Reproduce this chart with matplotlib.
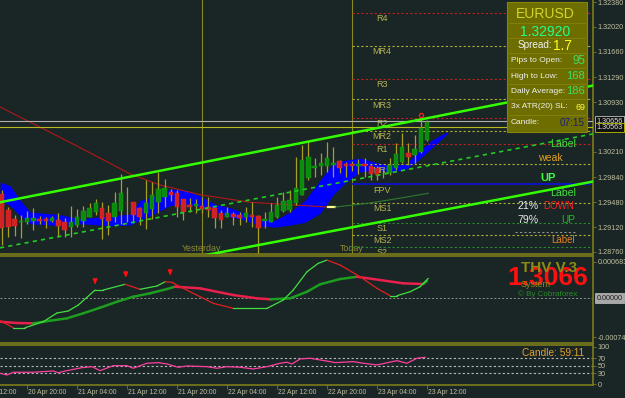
import matplotlib
matplotlib.use('Agg')
import matplotlib.pyplot as plt
from matplotlib.patches import Rectangle
from matplotlib.lines import Line2D
from matplotlib.collections import LineCollection
import matplotlib.transforms as mtransforms
import numpy as np

plt.rcParams['font.family'] = ['Liberation Sans', 'DejaVu Sans']

# ---------------- data ----------------
# hourly candles, index = hours since 20 Apr 16:00
opens = [1.2960,1.2937,1.2924,1.2919,1.2919,1.2921,1.2924,1.2924,1.2921,1.2922,
         1.2919,1.2912,1.2915,1.2921,1.2927,1.2934,1.2940,1.2932,1.2927,1.2935,
         1.2948,1.2948,1.2940,1.2932,1.2938,1.2948,1.2956,1.2963,1.2961,1.2953,
         1.2944,1.2943,1.2943,1.2941,1.2940,1.2932,1.2927,1.2931,1.2930,1.2927,
         1.2930,1.2928,1.2921,1.2919,1.2927,1.2935,1.2937,1.2947,1.2959,1.2983,
         1.2998,1.3001,1.3001,1.3002,1.3008,1.3003,1.3003,1.3001,1.3003,1.3001,
         1.2998,1.2989,1.2990,1.2998,1.3006,1.3019,1.3017,1.3021,1.3038]
highs = [1.2966,1.2941,1.2930,1.2930,1.2935,1.2940,1.2928,1.2927,1.2928,1.2932,
         1.2925,1.2943,1.2938,1.2943,1.2947,1.2953,1.2948,1.2944,1.2963,1.2989,
         1.2970,1.2948,1.2941,1.2980,1.2977,1.2992,1.2982,1.2967,1.2966,1.2953,
         1.2954,1.2953,1.2956,1.2956,1.2941,1.2937,1.2941,1.2934,1.2934,1.2941,
         1.2948,1.2930,1.2934,1.2947,1.2956,1.2963,1.2966,1.3014,1.3031,1.3035,
         1.3012,1.3019,1.3035,1.3028,1.3009,1.3006,1.3008,1.3011,1.3012,1.3002,
         1.3001,1.2998,1.3012,1.3034,1.3048,1.3034,1.3045,1.3072,1.3067]
lows = [1.2886,1.2898,1.2899,1.2896,1.2917,1.2908,1.2917,1.2911,1.2919,1.2898,
        1.2898,1.2898,1.2912,1.2912,1.2927,1.2930,1.2895,1.2901,1.2919,1.2917,
        1.2919,1.2918,1.2915,1.2909,1.2924,1.2932,1.2941,1.2950,1.2927,1.2922,
        1.2934,1.2932,1.2932,1.2927,1.2911,1.2911,1.2927,1.2915,1.2915,1.2919,
        1.2912,1.2875,1.2911,1.2919,1.2925,1.2934,1.2934,1.2944,1.2959,1.2980,
        1.2985,1.2988,1.2992,1.2985,1.2990,1.2985,1.2993,1.2989,1.2985,1.2980,
        1.2980,1.2983,1.2988,1.2995,1.3005,1.3002,1.3005,1.3019,1.3037]
closes = [1.2911,1.2912,1.2914,1.2921,1.2925,1.2925,1.2921,1.2921,1.2925,1.2914,
          1.2908,1.2919,1.2927,1.2935,1.2940,1.2947,1.2924,1.2921,1.2947,1.2961,
          1.2947,1.2930,1.2927,1.2947,1.2958,1.2967,1.2969,1.2958,1.2941,1.2934,
          1.2941,1.2946,1.2938,1.2937,1.2925,1.2922,1.2932,1.2927,1.2925,1.2932,
          1.2927,1.2911,1.2924,1.2934,1.2944,1.2950,1.2951,1.2969,1.3009,1.3014,
          1.3001,1.3005,1.3012,1.3005,1.2998,1.3001,1.3001,1.3003,1.3001,1.2989,
          1.2988,1.2990,1.3002,1.3018,1.3028,1.3014,1.3025,1.3056,1.3064]

time_ticks = [-4, 4, 12, 20, 28, 36, 44, 52, 60, 68]
time_labels = ['20 Apr 12:00', '20 Apr 20:00', '21 Apr 04:00', '21 Apr 12:00',
               '21 Apr 20:00', '22 Apr 04:00', '22 Apr 12:00', '22 Apr 20:00',
               '23 Apr 04:00', '23 Apr 12:00']

price_ticks = [1.3238, 1.3202, 1.3166, 1.3129, 1.3093, 1.3021, 1.2984, 1.2948, 1.2912, 1.2876]
bid_price = 1.30563
ask_price = 1.30656

# blue cloud band
cloud_idx = [-0.3, 1.3, 2.9, 4.5, 9.3, 12.5, 17.3, 20.5, 22.1, 24.5, 26.9, 29.3, 31.7, 34.1, 36.5,
             38.9, 41.3, 43.7, 46.1, 48.5, 50.9, 53.0, 54.9, 57.3, 59.7, 62.1, 64.5, 66.6, 68.8, 71.2]
cloud_top = [1.2977, 1.2972, 1.2951, 1.2934, 1.2930, 1.2924, 1.2928, 1.2931, 1.2951, 1.2957, 1.2967,
             1.2966, 1.2957, 1.2945, 1.2940, 1.2932, 1.2925, 1.2922, 1.2934, 1.2951, 1.2980, 1.3005,
             1.3009, 1.3012, 1.3006, 1.3001, 1.3003, 1.3021, 1.3038, 1.3050]
cloud_bot = [1.2951, 1.2943, 1.2928, 1.2917, 1.2914, 1.2917, 1.2914, 1.2915, 1.2922, 1.2932, 1.2943,
             1.2946, 1.2941, 1.2934, 1.2927, 1.2922, 1.2914, 1.2912, 1.2915, 1.2919, 1.2932, 1.2959,
             1.2976, 1.2992, 1.2995, 1.2992, 1.2995, 1.3009, 1.3027, 1.3047]

# moving average lines
ma_idx = [-0.3, 4.5, 9.3, 15.7, 20.5, 25.3, 31.7, 39.7, 46.9, 52.2]
ma_val = [1.3086, 1.3064, 1.3042, 1.3012, 1.2989, 1.2973, 1.2959, 1.2948, 1.2944, 1.2941]
ma2_idx = [53.3, 58.9, 63.7, 68.2]
ma2_val = [1.2941, 1.2947, 1.2954, 1.2961]

# regression channel
chan_idx = [-0.32, 94.56]
chan_upper = [1.2948, 1.3117]
chan_mid = [1.2882, 1.3047]
chan_lower = [1.2815, 1.2978]

# pivot levels (drawn from today)
pivot_names = ['R4', 'MR4', 'R3', 'MR3', 'R2', 'MR2', 'R1', 'MR1', 'FPV', 'MS1', 'S1', 'MS2', 'S2']
pivot_levels = [1.3222, 1.3174, 1.3127, 1.3097, 1.3070, 1.3051, 1.3033, 1.3003, 1.2974,
                1.2947, 1.2918, 1.2901, 1.2883]
yesterday_idx = 32
today_idx = 56

# THV oscillator
fast_idx = [-0.3, 1.8, 3.7, 6.6, 8.8, 10.6, 12.2, 14.9, 16.2, 19.7, 22.1, 24.8, 26.1, 27.2, 28.8,
            31.7, 33.8, 37.0, 42.4, 45.0, 46.6, 48.8, 50.6, 52.0, 54.1, 57.3, 60.0, 62.1, 63.2,
            65.3, 66.9, 68.2]
fast_val = [-0.000427, -0.000558, -0.000558, -0.000446, -0.000282, -0.000244, -0.000132, 0.000150,
            0.000150, 0.000258, 0.000164, 0.000226, 0.000306, 0.000295, 0.000194, 0.000024,
            -0.000100, -0.000194, -0.000194, -0.000038, 0.000150, 0.000494, 0.000652, 0.000714,
            0.000620, 0.000400, 0.000182, 0.000043, 0.000043, 0.000118, 0.000212, 0.000370]
slow_idx = [-0.3, 2.4, 5.0, 7.7, 10.4, 13.0, 15.7, 18.4, 21.0, 23.7, 26.4, 27.7, 31.7, 37.0, 40.8,
            42.9, 46.1, 48.8, 50.9, 54.1, 56.8, 60.5, 64.2, 67.4, 68.0]
slow_val = [-0.000446, -0.000470, -0.000476, -0.000427, -0.000382, -0.000288, -0.000182, -0.000070,
            0.000024, 0.000088, 0.000169, 0.000212, 0.000182, 0.000056, -0.000006, -0.000024,
            -0.000006, 0.000118, 0.000258, 0.000357, 0.000400, 0.000338, 0.000276, 0.000263, 0.000320]
arrow_idx = [14.9, 19.8, 26.9]
arrow_val = [0.000207, 0.000338, 0.000376]

# strength line (0..100)
rsi_idx = [-0.3, 0.8, 1.8, 5.0, 8.2, 9.0, 10.4, 12.8, 14.4, 15.7, 17.8, 20.0, 21.0, 23.2, 25.0,
           26.4, 28.2, 29.6, 32.8, 34.4, 36.0, 38.1, 40.2, 42.4, 44.5, 45.6, 46.4, 47.7, 49.3,
           50.9, 52.5, 53.3, 56.2, 57.8, 60.0, 63.2, 64.8, 66.4, 67.7]
rsi_val = [29.7, 25.2, 32.4, 32.4, 35.9, 31.3, 36.7, 44.7, 47.3, 36.7, 50.0, 50.0, 43.1, 56.4, 58.0,
           54.5, 45.7, 49.2, 47.3, 43.1, 47.3, 45.7, 41.2, 47.3, 56.4, 59.1, 54.5, 67.9, 69.7,
           65.2, 60.7, 58.0, 60.7, 56.4, 51.9, 63.3, 56.4, 69.7, 72.4]
rsi_levels = [70, 50, 30]

# ---------------- style ----------------
BG = '#1a2526'
OLIVE = '#7c7c1c'
TICK = '#c0c0a0'
W, H = 625, 398
XLIM = (-0.32, 94.56)

def fx(x):
    return x / W

def fy(y):
    return 1 - y / H

fig = plt.figure(figsize=(6.25, 3.98), dpi=100, facecolor=BG)
ax = fig.add_axes([0, fy(254), 593 / W, 254 / H], facecolor=BG)
ax1 = fig.add_axes([0, fy(343), 593 / W, 87 / H], facecolor=BG)
ax2 = fig.add_axes([0, fy(385), 593 / W, 40 / H], facecolor=BG)

for a in (ax, ax1, ax2):
    a.set_xlim(*XLIM)
    a.set_xticks([])
    a.yaxis.tick_right()
    a.tick_params(axis='y', colors=TICK, labelsize=5.2, length=2, width=0.6, pad=1.5)
    a.tick_params(axis='y', color=OLIVE)
    for s in a.spines.values():
        s.set_color(OLIVE)
        s.set_linewidth(1.2)
    a.spines['left'].set_visible(False)
ax.spines['top'].set_visible(False)

# ---------------- main chart ----------------
ax.set_ylim(1.28731, 1.32409)
ax.set_yticks(price_ticks)
ax.set_yticklabels([f'{p:.5f}' for p in price_ticks])

idx = np.arange(len(opens))
o = np.array(opens); c = np.array(closes)
hi = np.array(highs); lo = np.array(lows)

ax.fill_between(cloud_idx, cloud_bot, cloud_top, color='#0000ff', lw=0, zorder=2)

ax.plot(ma_idx, ma_val, color='#b01818', lw=0.8, zorder=3)
ax.plot([ma_idx[-1], ma2_idx[0]], [ma_val[-1], ma2_val[0]], color='#ffff90', lw=1.6, zorder=3)
ax.plot(ma2_idx, ma2_val, color='#2e7a2e', lw=0.8, zorder=3)

# separators
for v, name in ((yesterday_idx, 'Yesterday'), (today_idx, 'Today')):
    ax.axvline(v, color='#8a8a20', lw=0.8, zorder=1)
    ax.text(v, 1.28745, name, ha='center', va='bottom', color='#8c8c30', fontsize=6.4, zorder=1)

# pivot lines
def pcol(n):
    if n.startswith('M'):
        return '#b0b030'
    if n.startswith('R'):
        return '#c02020'
    if n.startswith('S'):
        return '#2a8a2a'
    return '#1010d0'

for n, lv in zip(pivot_names, pivot_levels):
    if n == 'FPV':
        ax.plot([today_idx, XLIM[1]], [lv, lv], color='#1010d0', lw=1.3, zorder=2)
    else:
        ax.plot([today_idx, XLIM[1]], [lv, lv], color=pcol(n), lw=0.8, dashes=(2, 2), zorder=2)
    ax.text(60.8, lv - 0.00083, n, ha='center', va='center', color='#b4b450',
            fontsize=6.5, zorder=2, clip_on=True)

# bid / ask lines
ax.axhline(ask_price, color='#b0b0b0', lw=0.8, zorder=3)
ax.axhline(bid_price, color='#b8b820', lw=0.8, zorder=3)

# channel
ax.plot(chan_idx, chan_upper, color='#33ff00', lw=1.8, zorder=6)
ax.plot(chan_idx, chan_lower, color='#33ff00', lw=1.8, zorder=6)
ax.plot(chan_idx, chan_mid, color='#22cc22', lw=1.2, dashes=(2.5, 2.5), zorder=6)

# candles
ax.vlines(idx, lo, hi, color='#a8a020', lw=0.9, zorder=4)
up = c >= o
body_h = np.maximum(np.abs(c - o), 0.00012)
body_b = np.minimum(o, c) - np.where(np.abs(c - o) < 0.00012, 0.00006, 0)
ax.bar(idx[up], body_h[up], bottom=body_b[up], width=0.72, color='#0a8c0a',
       edgecolor='#1aa01a', lw=0.3, zorder=5)
ax.bar(idx[~up], body_h[~up], bottom=body_b[~up], width=0.72, color='#d02222',
       edgecolor='#e03030', lw=0.3, zorder=5)
ax.plot([67], [highs[67] + 0.0002], marker='o', ms=3, mfc='none', mec='#ff2020', mew=0.9, zorder=6)

# right side signal labels
sig_labels = [('Label', 89.8, 1.3033, '#40e040', 7.6, 'normal'),
              ('weak', 87.7, 1.3012, '#e0a020', 7.6, 'normal'),
              ('UP', 87.4, 1.2983, '#40ff40', 8.0, 'bold'),
              ('Label', 89.8, 1.2962, '#40e040', 7.6, 'normal'),
              ('21%', 84.2, 1.2942, '#e8e8e8', 7.6, 'normal'),
              ('DOWN', 89.0, 1.2942, '#ff2020', 7.0, 'normal'),
              ('79%', 84.2, 1.2922, '#e8e8e8', 7.6, 'normal'),
              ('UP', 90.6, 1.2922, '#20c020', 7.2, 'normal'),
              ('Label', 89.8, 1.2893, '#e08020', 7.0, 'normal')]
for t, xi, pv, col, fs, fw in sig_labels:
    ax.text(xi, pv, t, ha='center', va='center', color=col, fontsize=fs, fontweight=fw, zorder=7)
ax.plot([82.1, 91.7], [1.2905, 1.2905], color='#909090', lw=0.8, dashes=(2, 2), zorder=2)

# highlighted price labels
btr = mtransforms.blended_transform_factory(ax.transAxes, ax.transData)
ax.text(1.006, ask_price, f'{ask_price:.5f}', transform=btr, ha='left', va='center', fontsize=5.2,
        color='#e0e0e0', clip_on=False,
        bbox=dict(boxstyle='square,pad=0.15', fc='#101010', ec='#c0c0c0', lw=0.6), zorder=8)
ax.text(1.006, bid_price, f'{bid_price:.5f}', transform=btr, ha='left', va='center', fontsize=5.2,
        color='#e0e0e0', clip_on=False,
        bbox=dict(boxstyle='square,pad=0.15', fc='#101010', ec='#c0c000', lw=0.6), zorder=8)

# ---------------- THV panel ----------------
ax1.set_ylim(-0.000846, 0.00079)
ax1.set_yticks([0.000683, -0.00074])
ax1.set_yticklabels(['0.000683', '-0.00074'])
ax1.axhline(0, color='#909090', lw=0.7, dashes=(2, 2))

def slope_lines(a, xs, ys, cu, cd, lw):
    pts = np.column_stack([xs, ys])
    segs = np.stack([pts[:-1], pts[1:]], axis=1)
    cols = [cu if s[1][1] >= s[0][1] else cd for s in segs]
    a.add_collection(LineCollection(segs, colors=cols, linewidths=lw, capstyle='round', zorder=3))

slope_lines(ax1, slow_idx, slow_val, '#1e9e1e', '#e8204c', 1.8)
slope_lines(ax1, fast_idx, fast_val, '#40e040', '#e02020', 0.9)
for xi, v in zip(arrow_idx, arrow_val):
    ax1.annotate('', xy=(xi, v), xytext=(xi, v + 0.00016),
                 arrowprops=dict(arrowstyle='-|>', color='#ff1010', lw=1.2, mutation_scale=6))

btr1 = mtransforms.blended_transform_factory(ax1.transAxes, ax1.transData)
ax1.text(1.006, 0, '0.00000', transform=btr1, ha='left', va='center', fontsize=5.2, color='#202020',
         clip_on=False, bbox=dict(boxstyle='square,pad=0.15', fc='#a8a8a8', ec='#c0c0c0', lw=0.5))

fig.text(fx(548), fy(278), '1.3066', ha='center', va='center', color='#ff1010', fontsize=19,
         fontweight='bold')
fig.text(fx(549), fy(267.5), 'THV V.3', ha='center', va='center', color='#8c8c14', fontsize=11,
         fontweight='bold')
fig.text(fx(536), fy(284.5), 'System', ha='center', va='center', color='#8c8c14', fontsize=6.5)
fig.text(fx(548), fy(294.3), '\u00a9 By Cobraforex', ha='center', va='center', color='#2a8a2a',
         fontsize=5.8)

# ---------------- strength panel ----------------
ax2.set_ylim(-1.5, 105)
ax2.set_yticks([100, 70, 50, 30, 0])
ax2.set_yticklabels(['100', '70', '50', '30', '0'])
for lv in rsi_levels:
    ax2.axhline(lv, color='#b8b8b8', lw=0.8, dashes=(2, 2))
ax2.plot(rsi_idx, rsi_val, color='#ff3fa0', lw=0.9, zorder=3)
fig.text(fx(522), fy(353), 'Candle: 59:11', ha='left', va='center', color='#e0a030', fontsize=7.3)

ax2.set_xticks([t for t in time_ticks if t > XLIM[0]])
ax2.tick_params(axis='x', length=3, width=0.6, color=OLIVE, labelbottom=False, direction='out')
for t, lab in zip(time_ticks, time_labels):
    fig.text(fx(2 + 6.25 * t + 1.5), fy(392.5), lab, ha='left', va='center', color=TICK, fontsize=4.9)

# ---------------- info box ----------------
fig.add_artist(Rectangle((fx(507), fy(132)), 80 / W, 130 / H, transform=fig.transFigure,
                         facecolor='#6e6e00', edgecolor='#85850c', lw=0.8, zorder=10))
for yy in (23, 38, 53, 68, 84, 99, 115):
    fig.add_artist(Line2D([fx(509), fx(585)], [fy(yy), fy(yy)], transform=fig.transFigure,
                          color='#80800a', lw=0.7, zorder=11))

info_rows = [('Pips to Open:', '95', '#3cdc64', 8.4, 60.5),
             ('High to Low:', '168', '#3cdc64', 8.0, 76),
             ('Daily Average:', '186', '#3cdc64', 8.0, 91.5),
             ('3x ATR(20) SL:', '69', '#ffff40', 6.4, 107),
             ('Candle:', '07:15', '#1a1a80', 7.2, 123)]
fig.text(fx(545), fy(14), 'EURUSD', ha='center', va='center', color='#d4d42a', fontsize=10, zorder=12)
fig.text(fx(545), fy(31.5), '1.32920', ha='center', va='center', color='#20ff90', fontsize=10, zorder=12)
fig.text(fx(552), fy(45.5), 'Spread:', ha='right', va='center', color='#f0f0f0', fontsize=7.2, zorder=12)
fig.text(fx(553), fy(45.5), '1.7', ha='left', va='center', color='#ffff20', fontsize=9.8, zorder=12)
for lab, val, col, fs, yy in info_rows:
    fig.text(fx(511), fy(yy), lab, ha='left', va='center', color='#f0f0f0', fontsize=6.0, zorder=12)
    fig.text(fx(585), fy(yy), val, ha='right', va='center', color=col, fontsize=fs, zorder=12)

fig.savefig('out.png', dpi=100, facecolor=BG)
